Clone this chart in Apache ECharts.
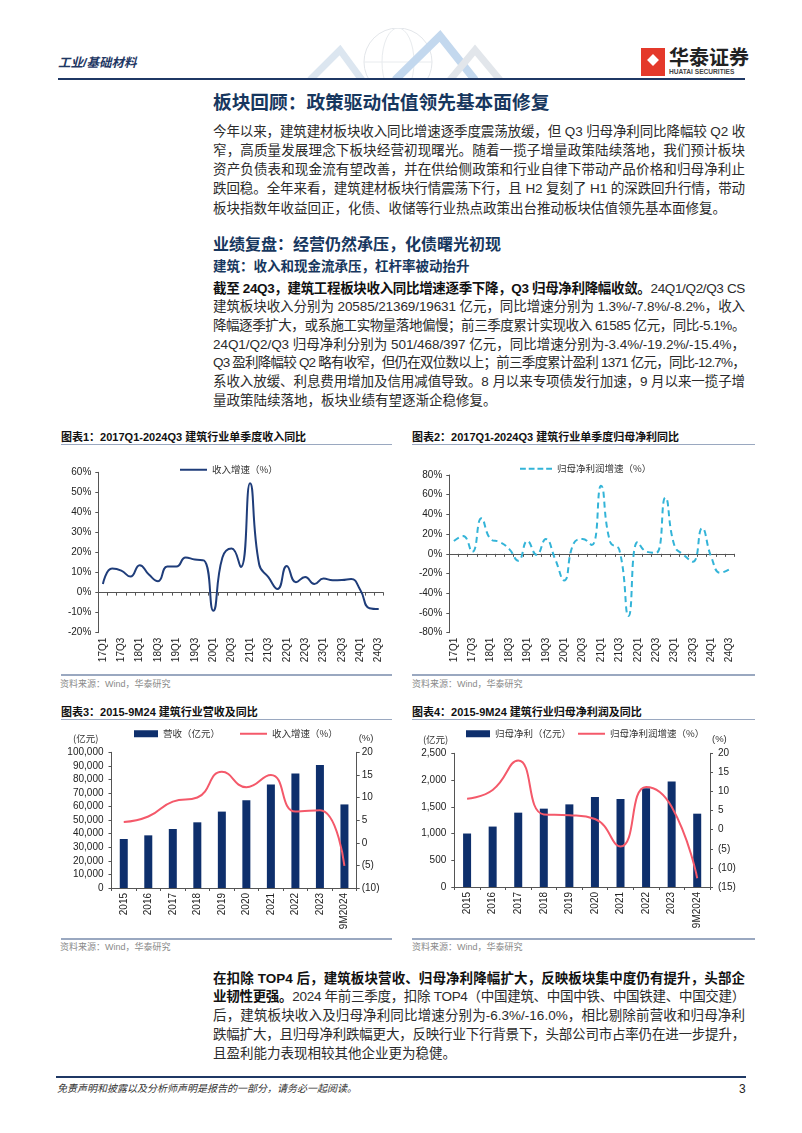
<!DOCTYPE html>
<html><head><meta charset="utf-8">
<script src="https://cdn.jsdelivr.net/npm/echarts@6/dist/echarts.min.js"></script>
<style>
html,body{margin:0;padding:0;background:#fff;}
#page{position:relative;width:802px;height:1133px;overflow:hidden;font-family:"Liberation Sans","Noto Sans CJK SC",sans-serif;color:#2b2b2b;}
.abs{position:absolute;white-space:nowrap;}
.ln{position:absolute;left:213px;width:532px;line-height:19px;font-size:13.5px;text-align:justify;text-align-last:justify;color:#2b2b2b;}
.ln.last{text-align-last:left;}
.b{font-weight:bold;color:#111;}
.h1{position:absolute;left:213px;font-size:18.7px;font-weight:bold;color:#17375e;line-height:24px;white-space:nowrap;}
.h2{position:absolute;left:213px;font-size:16px;font-weight:bold;color:#17375e;line-height:20px;white-space:nowrap;}
.h3{position:absolute;left:213px;font-size:13.5px;font-weight:bold;color:#17375e;line-height:18px;white-space:nowrap;}
.ct{position:absolute;font-size:11px;font-weight:bold;color:#111;line-height:14px;white-space:nowrap;}
.rule{position:absolute;height:1.5px;background:#9aa8c0;}
.src{position:absolute;font-size:9px;color:#8a8a8a;line-height:12px;white-space:nowrap;}
.chart{position:absolute;}
</style></head>
<body><div id="page">
<!-- header -->
<div class="abs" style="left:58px;top:54px;font-size:12.5px;font-weight:bold;font-style:italic;color:#1f3864;line-height:18px;">工业/基础材料</div>
<svg class="abs" style="left:300px;top:28px;" width="230" height="52">
  <circle cx="98" cy="34" r="34" fill="none" stroke="#e3e6ea" stroke-width="1"/>
  <ellipse cx="98" cy="34" rx="16" ry="34" fill="none" stroke="#e8ebee" stroke-width="1"/>
  <line x1="64" y1="34" x2="132" y2="34" stroke="#e8ebee"/>
  <polyline points="10,52 40,22 62,52" fill="none" stroke="#dce6f0" stroke-width="7"/>
  <polyline points="95,52 140,8 175,52" fill="none" stroke="#c3d8ee" stroke-width="8"/>
  <polyline points="150,52 175,22 200,52" fill="none" stroke="#e2e6eb" stroke-width="7"/>
</svg>
<div class="abs" style="left:641px;top:48px;width:24px;height:28px;background:#e4392b;"></div>
<div class="abs" style="left:646px;top:53px;width:14px;height:14px;background:#fff;transform:rotate(45deg) scale(0.6);"></div>
<div class="abs" style="left:669px;top:45px;font-size:20px;font-weight:bold;color:#222;line-height:24px;font-family:'Noto Sans CJK SC';">华泰证券</div>
<div class="abs" style="left:669px;top:68px;font-size:6.6px;font-weight:bold;color:#444;line-height:8px;">HUATAI SECURITIES</div>
<div class="abs" style="left:58px;top:78px;width:687px;height:2px;background:#1f3864;"></div>

<div class="h1" style="top:91px;">板块回顾：政策驱动估值领先基本面修复</div>
<div class="ln" style="top:121.5px;">今年以来，建筑建材板块收入同比增速逐季度震荡放缓，但 Q3 归母净利同比降幅较 Q2 收</div>
<div class="ln" style="top:140.8px;">窄，高质量发展理念下板块经营初现曙光。随着一揽子增量政策陆续落地，我们预计板块</div>
<div class="ln" style="top:160px;">资产负债表和现金流有望改善，并在供给侧政策和行业自律下带动产品价格和归母净利止</div>
<div class="ln" style="top:179.3px;">跌回稳。全年来看，建筑建材板块行情震荡下行，且 H2 复刻了 H1 的深跌回升行情，带动</div>
<div class="ln last" style="top:198.5px;">板块指数年收益回正，化债、收储等行业热点政策出台推动板块估值领先基本面修复。</div>

<div class="h2" style="top:235px;">业绩复盘：经营仍然承压，化债曙光初现</div>
<div class="h3" style="top:258px;">建筑：收入和现金流承压，杠杆率被动抬升</div>
<div class="ln" style="top:278.5px;"><span class="b">截至 24Q3，建筑工程板块收入同比增速逐季下降，Q3 归母净利降幅收敛。</span>24Q1/Q2/Q3 CS</div>
<div class="ln" style="top:297.2px;">建筑板块收入分别为 20585/21369/19631 亿元，同比增速分别为 1.3%/-7.8%/-8.2%，收入</div>
<div class="ln" style="top:315.9px;">降幅逐季扩大，或系施工实物量落地偏慢；前三季度累计实现收入 61585 亿元，同比-5.1%。</div>
<div class="ln" style="top:334.6px;">24Q1/Q2/Q3 归母净利分别为 501/468/397 亿元，同比增速分别为-3.4%/-19.2%/-15.4%，</div>
<div class="ln" style="top:353.3px;">Q3 盈利降幅较 Q2 略有收窄，但仍在双位数以上；前三季度累计盈利 1371 亿元，同比-12.7%，</div>
<div class="ln" style="top:372px;">系收入放缓、利息费用增加及信用减值导致。8 月以来专项债发行加速，9 月以来一揽子增</div>
<div class="ln last" style="top:390.7px;">量政策陆续落地，板块业绩有望逐渐企稳修复。</div>

<!-- chart titles -->
<div class="ct" style="left:61px;top:430px;">图表1：2017Q1-2024Q3 建筑行业单季度收入同比</div>
<div class="rule" style="left:61px;top:443.5px;width:331px;"></div>
<div class="ct" style="left:412px;top:430px;">图表2：2017Q1-2024Q3 建筑行业单季度归母净利同比</div>
<div class="rule" style="left:412px;top:443.5px;width:343px;"></div>
<div id="c1" class="chart" style="left:40px;top:450px;width:360px;height:222px;"></div>
<div id="c2" class="chart" style="left:405px;top:450px;width:360px;height:222px;"></div>
<div class="rule" style="left:61px;top:673.5px;width:331px;height:2px;"></div>
<div class="rule" style="left:412px;top:673.5px;width:343px;height:2px;"></div>
<div class="src" style="left:60px;top:678px;">资料来源：Wind，华泰研究</div>
<div class="src" style="left:412px;top:678px;">资料来源：Wind，华泰研究</div>

<div class="ct" style="left:61px;top:705px;">图表3：2015-9M24 建筑行业营收及同比</div>
<div class="rule" style="left:61px;top:718.5px;width:331px;"></div>
<div class="ct" style="left:412px;top:705px;">图表4：2015-9M24 建筑行业归母净利润及同比</div>
<div class="rule" style="left:412px;top:718.5px;width:343px;"></div>
<div id="c3" class="chart" style="left:40px;top:722px;width:360px;height:214px;"></div>
<div id="c4" class="chart" style="left:405px;top:722px;width:360px;height:214px;"></div>
<div class="rule" style="left:61px;top:937.5px;width:331px;height:2px;"></div>
<div class="rule" style="left:412px;top:937.5px;width:343px;height:2px;"></div>
<div class="src" style="left:60px;top:941px;">资料来源：Wind，华泰研究</div>
<div class="src" style="left:412px;top:941px;">资料来源：Wind，华泰研究</div>

<div class="ln" style="top:968.5px;"><span class="b">在扣除 TOP4 后，建筑板块营收、归母净利降幅扩大，反映板块集中度仍有提升，头部企</span></div>
<div class="ln" style="top:987.3px;"><span class="b">业韧性更强。</span>2024 年前三季度，扣除 TOP4（中国建筑、中国中铁、中国铁建、中国交建）</div>
<div class="ln" style="top:1006.1px;">后，建筑板块收入及归母净利同比增速分别为-6.3%/-16.0%，相比剔除前营收和归母净利</div>
<div class="ln" style="top:1024.9px;">跌幅扩大，且归母净利跌幅更大，反映行业下行背景下，头部公司市占率仍在进一步提升，</div>
<div class="ln last" style="top:1043.7px;">且盈利能力表现相较其他企业更为稳健。</div>

<div class="abs" style="left:56px;top:1076px;width:690px;height:2px;background:#1f3864;"></div>
<div class="abs" style="left:57px;top:1082px;font-size:10px;font-style:italic;color:#333;line-height:14px;">免责声明和披露以及分析师声明是报告的一部分，请务必一起阅读。</div>
<div class="abs" style="left:739px;top:1081px;font-size:12px;color:#222;line-height:16px;">3</div>
</div>
<script>
// fit justified lines to a single line
document.querySelectorAll('.ln').forEach(function(el){
  var ls = 0;
  while (el.offsetHeight > 28 && ls > -3) { ls -= 0.05; el.style.letterSpacing = ls + 'px'; }
});

// ---------------- data ----------------
const quarters = ['17Q1','17Q2','17Q3','17Q4','18Q1','18Q2','18Q3','18Q4','19Q1','19Q2','19Q3','19Q4',
  '20Q1','20Q2','20Q3','20Q4','21Q1','21Q2','21Q3','21Q4','22Q1','22Q2','22Q3','22Q4',
  '23Q1','23Q2','23Q3','23Q4','24Q1','24Q2','24Q3'];
const revenueGrowthQ = [4.3,12.0,11.0,8.0,13.7,9.0,5.7,13.0,13.0,17.5,16.5,16.0,
  -9.0,17.5,22.0,12.8,54.5,14.0,7.7,1.8,13.3,5.2,7.8,4.3,
  7.0,6.2,6.3,6.8,1.3,-7.8,-8.2];
const profitGrowthQ = [13,18,2,36,15,12,5,-7,13,-1,15,-5,
  -27,10,15,9,69,12,4,-63,12,2,1,57,
  8,-1,-8,26,-3.4,-19.2,-15.4];
const years = ['2015','2016','2017','2018','2019','2020','2021','2022','2023','9M2024'];
const revenueY = [36100,38800,43500,48400,56300,64600,76200,84300,90700,61585];
const revenueGrowthY = [4.6,5.8,9.1,10.0,15.7,12.3,15.0,6.9,7.2,-5.1];
const profitY = [1000,1130,1390,1465,1545,1685,1645,1845,1975,1371];
const profitGrowthY = [8.1,10.4,18.1,4.0,3.8,2.8,-4.4,11.2,6.0,-12.7];

// ---------------- styles ----------------
const FONT = '"Liberation Sans","Noto Sans CJK SC",sans-serif';
const AX = '#555';
const NAVY = '#1f3d7a';
const CYAN = '#33b4d8';
const BAR = '#0e2f6c';
const RED = '#f4596a';

function valAxis(min, max, interval, fmt, pos, margin) {
  return {type:'value', min:min, max:max, interval:interval, position:pos||'left',
    axisLine:{show:true, onZero:false, lineStyle:{color:AX, width:1}},
    axisTick:{show:true, length:3, lineStyle:{color:AX}},
    splitLine:{show:false},
    axisLabel:{formatter:fmt, fontSize:10, color:'#222', margin:margin, fontFamily:FONT}};
}
function catLabelAxis(data, interval) {
  return {type:'category', data:data, position:'bottom', boundaryGap:true,
    axisLine:{show:false, onZero:false}, axisTick:{show:false}, splitLine:{show:false},
    axisLabel:{interval:interval, rotate:90, fontSize:10, color:'#222', margin:5, fontFamily:FONT}};
}
function catZeroAxis(data) {
  return {type:'category', data:data, position:'bottom', boundaryGap:true,
    axisLine:{show:true, onZero:true, lineStyle:{color:AX, width:1}},
    axisTick:{show:true, interval:0, length:3, lineStyle:{color:AX}},
    axisLabel:{show:false}, splitLine:{show:false}};
}
const pct = function(v){ return v + '%'; };
const paren = function(v){ return v < 0 ? '(' + (-v) + ')' : String(v); };
const thou = function(v){ return v.toLocaleString('en-US'); };
const legText = {fontSize:9.5, color:'#333', fontFamily:'"Noto Sans CJK SC",sans-serif'};

// chart 1
const c1 = echarts.init(document.getElementById('c1'));
c1.setOption({
  animation:false,
  grid:{left:58.3, right:16.7, top:22.3, bottom:39.3, containLabel:false, outerBoundsMode:'none'},
  legend:{left:140, top:15, padding:0, itemWidth:27, itemHeight:2, icon:'rect', itemGap:4, textStyle:legText, data:['收入增速（%）']},
  xAxis:[catLabelAxis(quarters, 1), catZeroAxis(quarters)],
  yAxis:valAxis(-20, 60, 10, pct, 'left', 7),
  series:[{name:'收入增速（%）', type:'line', xAxisIndex:0, data:revenueGrowthQ, smooth:true, symbol:'none',
    lineStyle:{color:NAVY, width:2}, itemStyle:{color:NAVY}}]
});

// chart 2
const c2 = echarts.init(document.getElementById('c2'));
c2.setOption({
  animation:false,
  grid:{left:44.3, right:30.7, top:25, bottom:39.3, containLabel:false, outerBoundsMode:'none'},
  legend:{left:115, top:14, padding:0, itemWidth:32, itemHeight:2, itemGap:4,
    icon:'path://M0,0h6v2h-6zM9,0h6v2h-6zM18,0h6v2h-6zM27,0h6v2h-6z', textStyle:legText, data:['归母净利润增速（%）']},
  xAxis:[catLabelAxis(quarters, 1), catZeroAxis(quarters)],
  yAxis:valAxis(-80, 80, 20, pct, 'left', 7),
  series:[{name:'归母净利润增速（%）', type:'line', xAxisIndex:0, data:profitGrowthQ, smooth:true, symbol:'none',
    lineStyle:{color:CYAN, width:2, type:[6,4]}, itemStyle:{color:CYAN}}]
});

function comboOption(cfg) {
  const yl = valAxis(cfg.lmin, cfg.lmax, cfg.lint, thou, 'left', cfg.lmargin);
  yl.name = '(亿元)'; yl.nameLocation = 'end'; yl.nameGap = 14;
  yl.nameTextStyle = {align:'right', verticalAlign:'middle', fontSize:9.5, color:'#333', padding:[0, cfg.namePad, 0, 0], fontFamily:'"Noto Sans CJK SC",sans-serif'};
  const yr = valAxis(cfg.rmin, cfg.rmax, cfg.rint, paren, 'right', cfg.rmargin);
  yr.name = '(%)'; yr.nameLocation = 'end'; yr.nameGap = 14;
  yr.nameTextStyle = {align:'left', verticalAlign:'middle', fontSize:9.5, color:'#333', padding:[0,0,0,2], fontFamily:FONT};
  return {
    animation:false,
    grid:cfg.grid,
    legend:[
      {left:cfg.leg1, top:7, padding:0, itemWidth:24, itemHeight:7, icon:'rect', itemGap:4, textStyle:legText, data:[cfg.n1]},
      {left:cfg.leg2, top:7, padding:0, itemWidth:27, itemHeight:2, icon:'rect', itemGap:4, textStyle:legText, data:[cfg.n2]}
    ],
    xAxis:{type:'category', data:years, boundaryGap:true,
      axisLine:{show:true, lineStyle:{color:AX, width:1}},
      axisTick:{show:true, interval:0, length:3, lineStyle:{color:AX}},
      axisLabel:{interval:0, rotate:90, fontSize:10, color:'#222', margin:5, fontFamily:FONT}},
    yAxis:[yl, yr],
    series:[
      {name:cfg.n1, type:'bar', data:cfg.bars, barWidth:8, yAxisIndex:0, itemStyle:{color:BAR}},
      {name:cfg.n2, type:'line', data:cfg.line, yAxisIndex:1, smooth:true, symbol:'none', z:3,
        lineStyle:{color:RED, width:2}, itemStyle:{color:RED}}
    ]
  };
}

const c3 = echarts.init(document.getElementById('c3'));
c3.setOption(comboOption({
  grid:{left:71.5, right:43.3, top:30.3, bottom:48, containLabel:false, outerBoundsMode:'none'},
  lmin:0, lmax:100000, lint:10000, rmin:-10, rmax:20, rint:5, lmargin:8, rmargin:5, namePad:13,
  leg1:94, leg2:200, n1:'营收（亿元）', n2:'收入增速（%）', bars:revenueY, line:revenueGrowthY
}));

const c4 = echarts.init(document.getElementById('c4'));
c4.setOption(comboOption({
  grid:{left:49.3, right:55, top:31.3, bottom:49, containLabel:false, outerBoundsMode:'none'},
  lmin:0, lmax:2500, lint:500, rmin:-15, rmax:20, rint:5, lmargin:8, rmargin:8, namePad:6,
  leg1:61, leg2:173, n1:'归母净利（亿元）', n2:'归母净利润增速（%）', bars:profitY, line:profitGrowthY
}));
</script>
</body></html>
